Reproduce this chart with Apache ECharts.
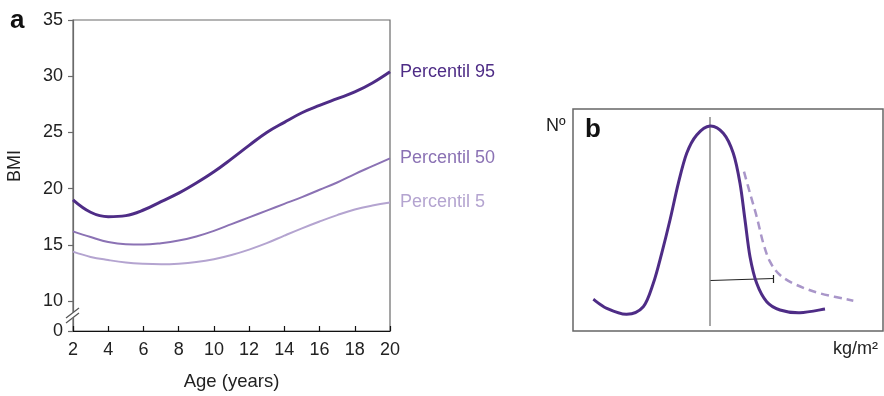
<!DOCTYPE html>
<html>
<head>
<meta charset="utf-8">
<script src="https://cdn.jsdelivr.net/npm/echarts@6/dist/echarts.min.js"></script>
<style>
html,body{margin:0;padding:0;background:#fff;}
#chart{width:884px;height:396px;}
</style>
</head>
<body>
<div id="chart"></div>
<script>
// ---------- Panel a data ----------
const ages = [2,3,4,5,6,7,8,9,10,11,12,13,14,15,16,17,18,19,20];
const p95 = [19.0,17.9,17.5,17.6,18.1,18.85,19.6,20.5,21.5,22.65,23.85,25.0,25.9,26.75,27.4,28.0,28.6,29.4,30.4];
const p50 = [16.2,15.7,15.25,15.05,15.03,15.15,15.38,15.75,16.25,16.85,17.45,18.05,18.65,19.25,19.9,20.55,21.3,22.0,22.7];
const p5  = [14.4,13.93,13.65,13.43,13.32,13.28,13.33,13.47,13.72,14.1,14.58,15.15,15.82,16.47,17.08,17.65,18.15,18.5,18.77];
const seriesNames = ['Percentil 95','Percentil 50','Percentil 5'];
const xTicks = [2,4,6,8,10,12,14,16,18,20];
const yBreakBase = 7.34;               // where the broken axis shows "0"
const yTickValues = [yBreakBase,10,15,20,25,30,35];
const yTickLabels = ['0','10','15','20','25','30','35'];

// ---------- Panel b data (schematic units) ----------
const distSolid = [[20.3,31.7],[33.7,22.7],[53.7,16.7],[70.3,24.3],[80.3,47.7],[88.7,77.7],[97,111],[105.3,147.7],[113.7,177.7],[123.7,196],[137,205],[150.3,197.7],[160.3,177.7],[167,147.7],[172,111],[177,74.3],[183.7,47.7],[193.7,29.3],[207,21],[227,18.3],[252,22]];
const distDashed = [[171,159.3],[177,137.7],[183.7,114.3],[190.3,87.7],[197,69.3],[207,56],[223.7,46],[247,37.7],[280.3,30.3]];
const medianLine = [[137,5],[137,214]];
const gapLine = [[137.5,50.5],[200.5,52.5]];
const gapTick = [[200.5,48],[200.5,56]];

const FONT = '"Liberation Sans", Arial, Helvetica, sans-serif';
const colors = ['#4e2c86','#8b72b4','#b4a4d0'];
const widths = [3,2,2];

// Catmull-Rom spline through pixel points -> SVG path
function splinePath(pts){
  let d = 'M' + pts[0][0] + ' ' + pts[0][1];
  for (let i = 0; i < pts.length - 1; i++){
    const p0 = pts[i-1] || pts[i], p1 = pts[i], p2 = pts[i+1], p3 = pts[i+2] || pts[i+1];
    const c1x = p1[0] + (p2[0]-p0[0])/6, c1y = p1[1] + (p2[1]-p0[1])/6;
    const c2x = p2[0] - (p3[0]-p1[0])/6, c2y = p2[1] - (p3[1]-p1[1])/6;
    d += ' C' + c1x + ' ' + c1y + ' ' + c2x + ' ' + c2y + ' ' + p2[0] + ' ' + p2[1];
  }
  return d;
}
function curveSeries(data, stroke, width, dash, z){
  return {
    type:'custom', xAxisIndex:1, yAxisIndex:1, data:data, z:z, silent:true,
    renderItem:function(params, api){
      if (params.dataIndex !== 0) return null;
      const pts = data.map(p => api.coord(p));
      return {type:'path', shape:{pathData:splinePath(pts)},
        style:{stroke:stroke, lineWidth:width, fill:'none', lineDash:dash || null, lineCap:'butt'}};
    }
  };
}

const chart = echarts.init(document.getElementById('chart'));
const pA = [p95,p50,p5];

const lineSeries = pA.map((arr,i)=>({
  type:'line', name:seriesNames[i], xAxisIndex:0, yAxisIndex:0,
  data: ages.map((a,k)=>[a,arr[k]]),
  smooth:0.4, showSymbol:false, symbol:'none',
  lineStyle:{color:colors[i], width:widths[i]},
  itemStyle:{color:colors[i]},
  endLabel:{show:true, formatter:'{a}', color:colors[i], fontSize:18, fontFamily:FONT, distance:10},
  z:3
}));

const bSeries = [
  {type:'line', xAxisIndex:1, yAxisIndex:1, data:medianLine, symbol:'none', lineStyle:{color:'#8a8a8a', width:1.5}, z:2},
  {type:'line', xAxisIndex:1, yAxisIndex:1, data:gapLine, symbol:'none', lineStyle:{color:'#222', width:1}, z:2},
  {type:'line', xAxisIndex:1, yAxisIndex:1, data:gapTick, symbol:'none', lineStyle:{color:'#222', width:1.2}, z:2},
  curveSeries(distDashed, '#a996c9', 2.5, [8,5], 3),
  curveSeries(distSolid, '#4e2c86', 3, null, 4)
];

chart.setOption({
  animation:false,
  backgroundColor:'#fff',
  textStyle:{fontFamily:FONT},
  grid:[
    {left:73, top:20, width:317, height:311.7, show:true, borderColor:'#6a6a6a', borderWidth:1.2, containLabel:false},
    {left:573, top:109, width:310, height:222, show:true, borderColor:'#666', borderWidth:1.5, containLabel:false}
  ],
  xAxis:[
    {type:'value', gridIndex:0, min:2, max:20, interval:2,
     name:'Age (years)', nameLocation:'middle', nameGap:41,
     nameTextStyle:{fontSize:18.5, color:'#222', fontFamily:FONT},
     axisLine:{show:true, lineStyle:{color:'#111', width:1.2}},
     axisTick:{show:true, inside:true, length:5, lineStyle:{color:'#111', width:1.2}},
     axisLabel:{fontSize:18, color:'#222', margin:10, fontFamily:FONT, customValues:xTicks},
     splitLine:{show:false}},
    {type:'value', gridIndex:1, min:0, max:310, show:false}
  ],
  yAxis:[
    {type:'value', gridIndex:0, min:yBreakBase, max:35,
     axisLine:{show:true, lineStyle:{color:'#6a6a6a', width:1.2}},
     axisTick:{show:true, inside:false, length:5, customValues:yTickValues, lineStyle:{color:'#6a6a6a', width:1.2}},
     axisLabel:{fontSize:18, color:'#222', margin:10, fontFamily:FONT, customValues:yTickValues,
       formatter:function(v){ const i = yTickValues.findIndex(t=>Math.abs(t-v)<1e-6); return i>=0 ? yTickLabels[i] : ''; }},
     splitLine:{show:false}},
    {type:'value', gridIndex:1, min:0, max:222, show:false}
  ],
  series: lineSeries.concat(bSeries),
  graphic:[
    {type:'text', left:10, top:8, style:{text:'a', font:'bold 26px '+FONT, fill:'#111'}},
    {type:'text', x:15, y:166, rotation:Math.PI/2, style:{text:'BMI', font:'18px '+FONT, fill:'#222', align:'center', verticalAlign:'middle'}},
    // axis break marks
    {type:'polygon', shape:{points:[[66,318],[77,309],[77,315],[66,324]]}, style:{fill:'#fff'}, z:10},
    {type:'line', shape:{x1:66, y1:318, x2:79, y2:308}, style:{stroke:'#555', lineWidth:1.2}, z:11},
    {type:'line', shape:{x1:66, y1:323, x2:79, y2:313}, style:{stroke:'#555', lineWidth:1.2}, z:11},
    // panel b labels
    {type:'text', left:585, top:117, style:{text:'b', font:'bold 26px '+FONT, fill:'#111'}, z:10},
    {type:'text', left:546, top:117, style:{text:'Nº', font:'18px '+FONT, fill:'#222'}},
    {type:'text', left:833, top:340, style:{text:'kg/m²', font:'18px '+FONT, fill:'#222'}}
  ]
});
</script>
</body>
</html>
